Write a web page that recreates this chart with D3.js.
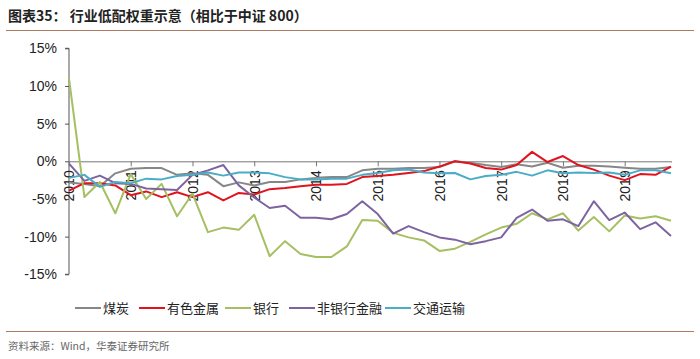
<!DOCTYPE html>
<html><head><meta charset="utf-8">
<script src="https://cdn.jsdelivr.net/npm/d3@7/dist/d3.min.js"></script>
<style>body{margin:0;background:#fff}svg{display:block}</style>
</head><body>
<svg id="c" width="700" height="359"></svg>
<script>
const categories = d3.range(40).map(i => (2010 + Math.floor(i/4)) + "Q" + (i%4+1));
const tickLabels = ["2010","2011","2012","2013","2014","2015","2016","2017","2018","2019"];
const seriesNames = ["煤炭","有色金属","银行","非银行金融","交通运输"];
const coal = [-2.8,-3.0,-3.3,-1.6,-1.0,-0.9,-0.9,-1.8,-1.6,-1.8,-3.3,-2.8,-3.2,-2.75,-2.75,-2.4,-2.2,-2.1,-2.1,-1.2,-1.0,-1.0,-0.9,-0.9,-0.75,0,-0.2,-0.5,-0.75,-0.4,-0.7,-0.2,-0.85,-0.6,-0.6,-0.7,-0.85,-1.0,-1.0,-0.75];
const metals = [-3.9,-2.9,-2.9,-3.2,-4.5,-4.0,-4.75,-4.1,-4.75,-4.1,-5.2,-4.2,-4.4,-3.7,-3.55,-3.3,-3.1,-3.1,-3.0,-2.1,-1.95,-1.8,-1.55,-1.3,-0.7,0,-0.3,-0.9,-1.1,-0.5,1.25,-0.1,0.7,-0.5,-1.1,-1.9,-2.5,-1.7,-1.8,-0.7];
const banks = [11.0,-4.75,-2.75,-6.9,-1.7,-5.0,-3.0,-7.3,-4.3,-9.4,-8.8,-9.1,-7.1,-12.6,-10.6,-12.3,-12.7,-12.7,-11.3,-7.8,-7.9,-9.5,-10.1,-10.5,-11.9,-11.6,-10.7,-9.7,-8.8,-8.3,-6.9,-7.7,-6.9,-9.2,-7.4,-9.3,-7.2,-7.6,-7.3,-7.9];
const nonbank = [-0.3,-2.6,-1.9,-2.9,-3.0,-3.6,-3.7,-3.8,-1.8,-1.2,-0.5,-3.2,-4.8,-6.2,-5.9,-7.5,-7.5,-7.7,-7.0,-5.3,-7.0,-9.6,-8.6,-9.4,-10.1,-10.4,-11.0,-10.6,-10.1,-7.5,-6.4,-7.9,-7.7,-8.6,-5.3,-7.8,-6.8,-9.0,-8.1,-9.9];
const transport = [-2.2,-1.8,-3.4,-2.75,-2.9,-2.3,-2.4,-1.95,-1.8,-1.5,-1.9,-1.5,-1.5,-1.6,-2.1,-2.4,-2.4,-2.3,-2.3,-1.8,-1.55,-1.2,-1.1,-1.5,-1.6,-1.55,-2.4,-1.95,-1.8,-1.4,-1.9,-1.2,-1.6,-1.5,-1.55,-1.5,-1.8,-1.2,-1.2,-1.6];
const yTicks = [15,10,5,0,-5,-10,-15];
const colors = ["#878787","#e0141e","#a5bf62","#7d64a0","#4bacc6"];
const allSeries = [coal, metals, banks, nonbank, transport];

const svg = d3.select("#c");
const x = d3.scalePoint().domain(categories).range([69, 671]);
const y = d3.scaleLinear().domain([-15, 15]).range([274.3, 48.3]);

// title
svg.append("text").attr("x", 8).attr("y", 21)
  .attr("font-family", "'Noto Sans CJK SC', sans-serif").attr("font-size", 14).attr("font-weight", "bold")
  .attr("fill", "#222").text("图表35：  行业低配权重示意（相比于中证 800）");
svg.append("line").attr("x1", 6).attr("x2", 694).attr("y1", 30.5).attr("y2", 30.5)
  .attr("stroke", "#b07a60").attr("stroke-width", 1);

// y axis
const yAxis = d3.axisLeft(y).tickValues(yTicks).tickFormat(d => d + "%").tickSize(4).tickPadding(8);
const gy = svg.append("g").attr("transform", "translate(69,0)").call(yAxis);
gy.select(".domain").attr("stroke", "#555").attr("d", `M-4,${y(15)}H0V${y(-15)}H-4`);
gy.selectAll(".tick line").attr("stroke", "#555");
gy.selectAll(".tick text").attr("font-family", "'Liberation Sans', Arial, sans-serif").attr("font-size", 14).attr("fill", "#222");

// x axis at zero
const xAxis = d3.axisBottom(x)
  .tickValues(categories.filter((d, i) => i % 4 === 0))
  .tickFormat((d, i) => tickLabels[i]).tickSize(5).tickSizeOuter(0);
const gx = svg.append("g").attr("transform", `translate(0,${y(0)})`).call(xAxis);
gx.select(".domain").attr("stroke", "#777").attr("d", `M69,0.5H672`);
gx.selectAll(".tick line").attr("stroke", "#777");
gx.selectAll(".tick text")
  .attr("font-family", "'Liberation Sans', Arial, sans-serif").attr("font-size", 14).attr("fill", "#222")
  .attr("transform", "rotate(-90)").attr("text-anchor", "end").attr("x", -9).attr("y", 0).attr("dy", "0.35em");

// lines
const line = d3.line().x((d, i) => x(categories[i])).y(d => y(d));
allSeries.forEach((s, k) => {
  svg.append("path").datum(s).attr("d", line).attr("fill", "none")
    .attr("stroke", colors[k]).attr("stroke-width", 2).attr("stroke-linejoin", "round");
});

// legend
const legX = [75, 139, 225, 289, 385];
seriesNames.forEach((n, k) => {
  const g = svg.append("g").attr("transform", `translate(${legX[k]},308)`);
  g.append("line").attr("x1", 0).attr("x2", 26).attr("y1", 0).attr("y2", 0).attr("stroke", colors[k]).attr("stroke-width", 2);
  g.append("text").attr("x", 28).attr("y", 0).attr("dy", "0.36em")
    .attr("font-family", "'Noto Sans CJK SC', sans-serif").attr("font-size", 13).attr("fill", "#222").text(n);
});

// bottom rule and source
svg.append("line").attr("x1", 6).attr("x2", 694).attr("y1", 331.5).attr("y2", 331.5)
  .attr("stroke", "#b07a60").attr("stroke-width", 1);
svg.append("text").attr("x", 8).attr("y", 350)
  .attr("font-family", "'Noto Sans CJK SC', sans-serif").attr("font-size", 10.5).attr("fill", "#666")
  .text("资料来源：Wind，华泰证券研究所");
</script>
</body></html>
